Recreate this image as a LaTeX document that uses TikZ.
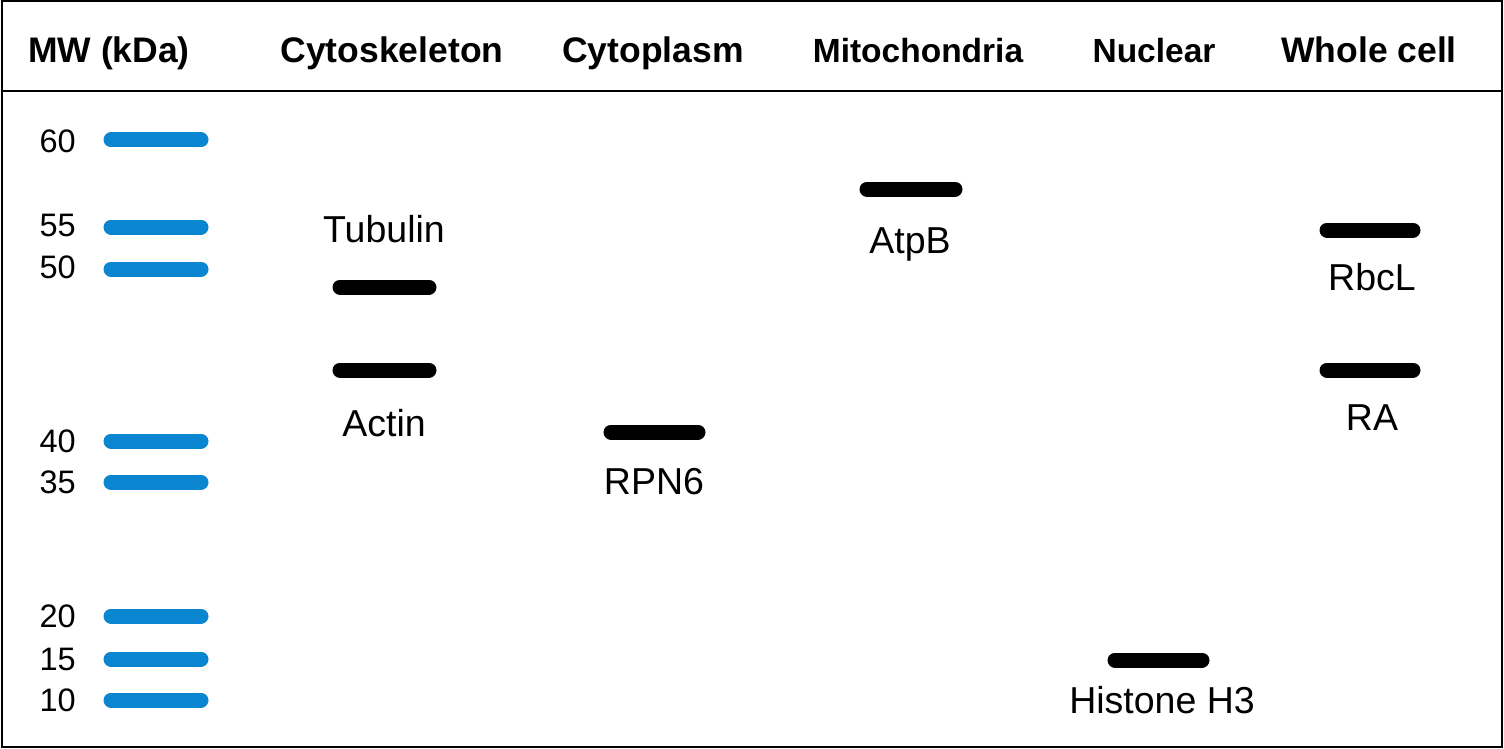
\documentclass[tikz,border=0pt]{standalone}
\usepackage{fontspec}
\setmainfont{Liberation Sans}
\definecolor{ladder}{HTML}{0A85D0}
\begin{document}
\begin{tikzpicture}[x=1pt,y=-1pt,
  hdr/.style={font=\fontsize{35.5}{40}\selectfont\bfseries, inner sep=0pt, anchor=base},
  hdrs/.style={font=\fontsize{33.5}{40}\selectfont\bfseries, inner sep=0pt, anchor=base},
  lbl/.style={font=\fontsize{37.5}{42}\selectfont, inner sep=0pt, anchor=base},
  mw/.style={font=\fontsize{32.5}{36}\selectfont, inner sep=0pt, anchor=east},
  ladderband/.style={line width=15pt, line cap=round, draw=ladder},
  protband/.style={line width=15pt, line cap=round, draw=black}]
\useasboundingbox (0,0) rectangle (1504,749);
\fill[white] (0,0) rectangle (1504,749);
\draw[line width=2pt] (1.5,1.5) rectangle (1501.5,746.5);
\draw[line width=2pt] (1.5,91) -- (1501.5,91);
% headers
\node[hdr] (h0) at (109,63) {MW (kDa)};
\node[hdr] (h1) at (392,63) {Cytoskeleton};
\node[hdr] (h2) at (653,63) {Cytoplasm};
\node[hdrs] (h3) at (918,63) {Mitochondria};
\node[hdrs] (h4) at (1154,63) {Nuclear};
\node[hdr] (h5) at (1369,63) {Whole cell};
% ladder
\foreach \v/\y in {60/141,55/225,50/267,40/441,35/482,20/616,15/659,10/700}{
  \node[mw] (m\v) at (76,\y) {\v};
}
\foreach \v/\y in {60/140,55/227,50/269,40/441,35/482,20/616,15/659,10/700}{
  \draw[ladderband] (111,\y) -- (201,\y);
}
% protein bands
\draw[protband] (340,287) -- (429,287);
\draw[protband] (340,370) -- (429,370);
\node[lbl] (tub) at (384,242) {Tubulin};
\node[lbl] (act) at (384,436) {Actin};
\draw[protband] (611,432) -- (698,432);
\node[lbl] (rpn) at (654,494) {RPN6};
\draw[protband] (867,189) -- (955,189);
\node[lbl] (atp) at (910,253) {AtpB};
\draw[protband] (1115,660) -- (1202,660);
\node[lbl] (his) at (1162,713) {Histone H3};
\draw[protband] (1327,230) -- (1413,230);
\node[lbl] (rbc) at (1372,290) {RbcL};
\draw[protband] (1327,370) -- (1413,370);
\node[lbl] (ra) at (1372,430) {RA};
\end{tikzpicture}
\end{document}
